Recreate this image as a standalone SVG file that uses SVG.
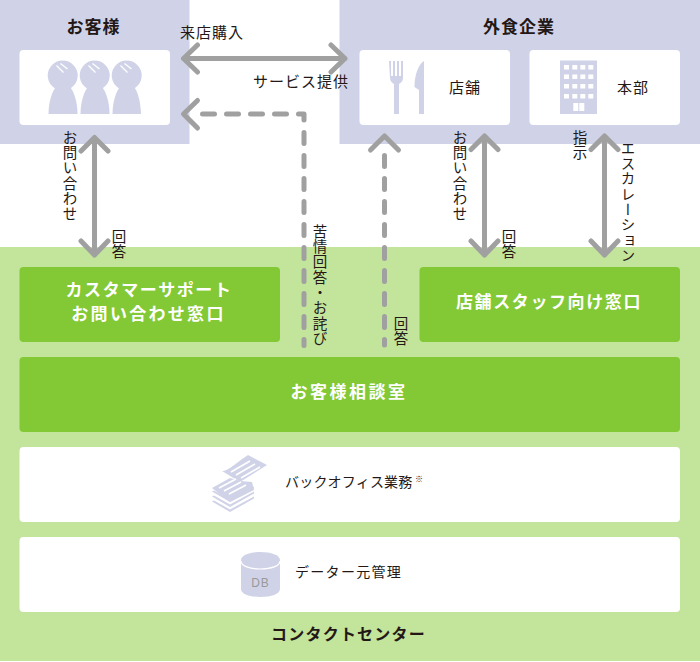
<svg xmlns="http://www.w3.org/2000/svg" width="700" height="662" viewBox="0 0 700 662">
<style>
text{font-family:"Noto Sans CJK JP","Liberation Sans",sans-serif;fill:#231815}
.t{font-size:15px;letter-spacing:1px}
.b{font-size:17px;font-weight:700;letter-spacing:1px;text-anchor:middle}
.w{font-size:17px;font-weight:700;fill:#fff;text-anchor:middle;letter-spacing:1.600px}
.v{font-size:14.500px;writing-mode:vertical-rl;letter-spacing:.8px}
.l{fill:none;stroke:#a0a0a0;stroke-width:5px;stroke-linecap:round;stroke-linejoin:round}
.d{stroke-dasharray:11 12}
.i{fill:#d0d3e8}
.card{fill:#fff}
.gb{fill:#82c935}
</style>
<rect width="700" height="662" fill="#fff"/>
<g id="customer">
<rect class="i" x="0" y="0" width="189.500" height="144"/>
<text class="b" x="93.500" y="33">お客様</text>
<rect class="card" x="19.500" y="50" width="150.500" height="75" rx="4"/>
<g id="people" class="i">
<circle cx="62.700" cy="75.500" r="15"/><path d="M48.500 114c0-11 3-23 9-29h11c6 6 9 18 9 29z"/>
<circle cx="94.700" cy="75.500" r="15"/><path d="M80.500 114c0-11 3-23 9-29h11c6 6 9 18 9 29z"/>
<circle cx="126.700" cy="75.500" r="15"/><path d="M112.500 114c0-11 3-23 9-29h11c6 6 8 18 8.500 29z"/>
<path d="M56.500 65.500l7 7M60.500 63.500l7 5.500M88.500 65.500l7 7M92.500 63.500l7 5.500M120.500 65.500l7 7M124.500 63.500l7 5.500" stroke="#fff" stroke-width="1.300" fill="none"/>
</g>
</g>
<g id="company">
<rect class="i" x="339.500" y="0" width="360.500" height="144"/>
<text class="b" x="519" y="33">外食企業</text>
</g>
<g id="store">
<rect class="card" x="359.500" y="50" width="150.500" height="75" rx="4"/>
<path class="i" d="M389 61h2v15h2V61h2v15h2V61h2v15h2V61h2v17c0 3-2 5-4 6v30h-5V84c-2-1-4-3-4-6z"/>
<path class="i" d="M424 61v53h-5V90l-4.500-3c0-12 4-23 9.500-26z"/>
<text class="t" x="449" y="93">店舗</text>
</g>
<g id="hq">
<rect class="card" x="529.500" y="50" width="150.500" height="75" rx="4"/>
<path class="i" d="M560 60.500h37V114h-37z"/>
<path fill="#fff" d="M564 65h5v4.500h-5zM572.300 65h5v4.500h-5zM580.300 65h5v4.500h-5zM588.300 65h5v4.500h-5zM564 74.500h5v4.500h-5zM572.300 74.500h5v4.500h-5zM580.300 74.500h5v4.500h-5zM588.300 74.500h5v4.500h-5zM564 84h5v4.500h-5zM572.300 84h5v4.500h-5zM580.300 84h5v4.500h-5zM588.300 84h5v4.500h-5zM564 94h5v4.500h-5zM572.300 94h5v4.500h-5zM580.300 94h5v4.500h-5zM588.300 94h5v4.500h-5zM573.300 103h5v8h-5zM579.300 103h5v8h-5z"/>
<text class="t" x="617" y="93">本部</text>
</g>
<g id="contact-center">
<rect x="0" y="247" width="700" height="414" fill="#c3e49b"/>
<text x="348.500" y="640" style="font-size:16px;font-weight:700;text-anchor:middle;letter-spacing:1.200px">コンタクトセンター</text>
</g>
<g id="support-desk">
<rect class="gb" x="19.500" y="267" width="260.500" height="75" rx="4"/>
<text class="w" x="149" y="296">カスタマーサポート</text>
<text class="w" x="148.500" y="320" style="letter-spacing:2.300px">お問い合わせ窓口</text>
</g>
<g id="staff-desk">
<rect class="gb" x="419.500" y="267" width="260.500" height="75" rx="4"/>
<text class="w" x="549" y="308">店舗スタッフ向け窓口</text>
</g>
<g id="consult">
<rect class="gb" x="19.500" y="357" width="660.500" height="75" rx="4"/>
<text class="w" x="349" y="398" style="letter-spacing:2.500px">お客様相談室</text>
</g>
<g id="backoffice">
<rect class="card" x="19.500" y="447" width="660.500" height="75" rx="4"/>
<g class="i">
<path d="M222 471c6 0 10-5 26-16l19 10-27 17z"/>
<path d="M212 488l18-10 10 3 12 1 2 8-24 12z"/>
<path d="M212 491.500l2-1 16 9 24-13v2l-24 13.500z"/>
<path d="M212 496.500l2-1 16 9 24-13v2l-24 13.500z"/>
<path d="M212 501.500l2-1 16 9 24-13v2l-24 13.500z"/>
</g>
<path d="M231 472l19-11M236 475l19-11M241 478l19-11M219 488l17-9M224 491l17-9M229 494l17-9" stroke="#fff" stroke-width="1.700" fill="none"/>
<text x="285" y="487" style="font-size:14px;letter-spacing:.2px">バックオフィス業務</text>
<text x="415" y="482" style="font-size:8px">※</text>
</g>
<g id="db">
<rect class="card" x="19.500" y="537" width="660.500" height="75" rx="4"/>
<path class="i" d="M241 560c0-5 9-8 19.500-8s19.500 3 19.500 8v29c0 5-9 8-19.500 8s-19.500-3-19.500-8z"/>
<path d="M241 561c0 5 9 8 19.500 8s19.500-3 19.500-8" fill="none" stroke="#fff" stroke-width="1.200"/>
<text x="260.500" y="587" style="font-family:'Liberation Sans',sans-serif;font-size:12px;fill:#999;text-anchor:middle;letter-spacing:1px">DB</text>
<text x="295" y="577" style="font-size:14px;letter-spacing:1.300px">データー元管理</text>
</g>
<g id="connectors">
<path class="l" d="M183.500 58.500H345M197.500 45L183.500 58.500l14 13.500M331 45L345 58.500l-14 13.500"/>
<path class="l" d="M94.500 137.500V255M81 151l13.500-13.500L108 151M81 241l13.500 14L108 241"/>
<path class="l" d="M484.500 136V255M471 149.500l13.500-13.500L498 149.500M471 241l13.500 14L498 241"/>
<path class="l" d="M604.500 136V255M591 149.500l13.500-13.500L618 149.500M591 241l13.500 14L618 241"/>
<path class="l" d="M202.500 114H290" stroke-dasharray="12 12"/>
<path class="l" d="M298.500 114H304V120"/>
<path class="l d" d="M304 132.500V345.500"/>
<path class="l" d="M197.500 100.500L183.500 114l14 14"/>
<path class="l d" d="M384.500 155.500V345"/>
<path class="l" d="M370.500 150l14-14 14 14"/>
</g>
<g id="labels">
<text class="t" x="180" y="38">来店購入</text>
<text class="t" x="253" y="87">サービス提供</text>
<text class="v" x="70" y="130">お問い合わせ</text>
<text class="v" x="119" y="229">回答</text>
<text class="v" x="460" y="130">お問い合わせ</text>
<text class="v" x="509" y="229">回答</text>
<text class="v" x="580" y="130">指示</text>
<text class="v" x="628" y="141">エスカレーション</text>
<text class="v" x="320" y="224">苦情回答・お詫び</text>
<text class="v" x="401" y="316">回答</text>
</g>
</svg>
